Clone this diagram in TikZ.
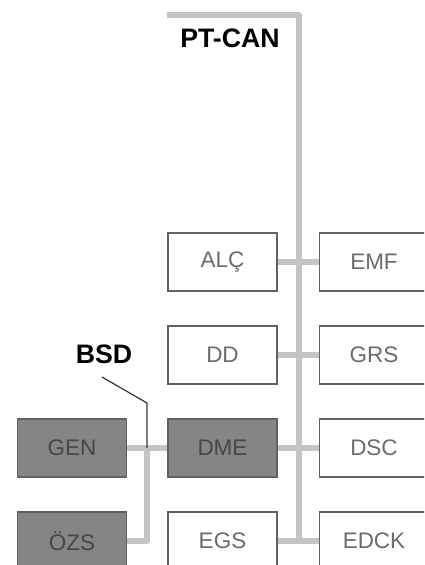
\documentclass[tikz,border=0pt]{standalone}
\usepackage{fontspec}
\setmainfont{Liberation Sans}
\usetikzlibrary{backgrounds}

\begin{document}
\begin{tikzpicture}[
  x=0.25mm, y=-0.25mm,
  every node/.style={font=\fontsize{16}{18}\selectfont},
  ecu/.style={rectangle, draw=black!62, line width=0.4mm, fill=white,
    minimum width=27.25mm, minimum height=14.5mm, inner sep=0pt, text=black!58},
  dark/.style={ecu, fill=black!48, text=black!72},
  bus/.style={line width=1.5mm, draw=black!23, line join=round},
  leader/.style={line width=0.3mm, draw=black!80},
  busname/.style={font=\fontsize{19}{21}\selectfont\bfseries}
]
\useasboundingbox (0,0) rectangle (424,565);
\clip (0,0) rectangle (424,565);

% Nodes
\node[ecu]  (alc)  at (222.5,262) {ALÇ};
\node[ecu]  (emf)  at (374,262)   {EMF};
\node[ecu]  (dd)   at (222.5,355) {DD};
\node[ecu]  (grs)  at (374,355)   {GRS};
\node[dark] (gen)  at (72,448)    {GEN};
\node[dark] (dme)  at (222.5,448) {DME};
\node[ecu]  (dsc)  at (374,448)   {DSC};
\node[dark] (ozs)  at (72,541)    {ÖZS};
\node[ecu]  (egs)  at (222.5,541) {EGS};
\node[ecu]  (edck) at (374,541)   {EDCK};

% Bus labels
\node[busname] (ptcan) at (230,38)  {PT-CAN};
\node[busname] (bsd)   at (104,354) {BSD};

\coordinate (canstart)  at (167,15);
\coordinate (cancorner) at (299,15);
\coordinate (bsdtop)    at (147,448);
\coordinate (bsdlead)   at (102,377);
\coordinate (bsdknee)   at (147,403);

\begin{scope}[on background layer]
% PT-CAN
\draw[bus] (canstart) -- (cancorner) -- (cancorner |- edck.west);
\draw[bus] (alc.east) -- (emf.west);
\draw[bus] (dd.east)  -- (grs.west);
\draw[bus] (dme.east) -- (dsc.west);
\draw[bus] (egs.east) -- (edck.west);

% BSD
\draw[bus] (gen.east) -- (dme.west);
\draw[bus] (bsdtop) |- (ozs.east);
\end{scope}

\draw[leader] (bsdlead) -- (bsdknee) -- (bsdtop);

\end{tikzpicture}
\end{document}
